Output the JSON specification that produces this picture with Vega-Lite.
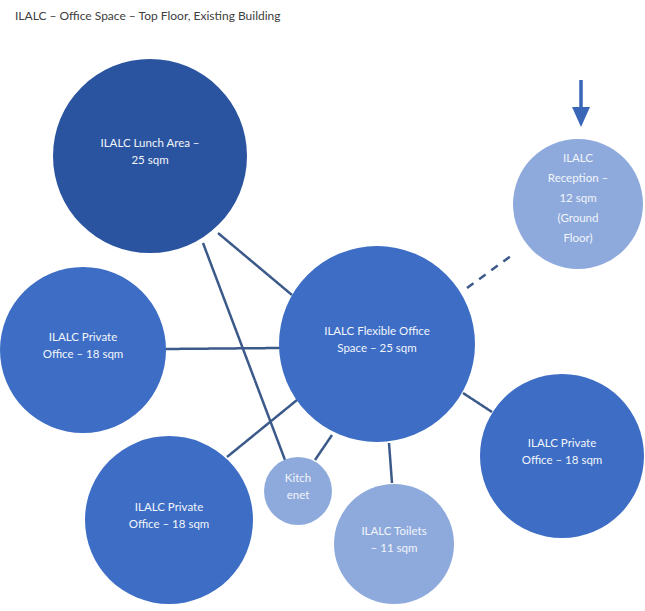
{
  "$schema": "https://vega.github.io/schema/vega-lite/v6.json",
  "width": 645,
  "height": 611,
  "autosize": {"type": "fit", "contains": "padding"},
  "padding": 0,
  "background": "white",
  "title": {
    "text": "ILALC – Office Space – Top Floor, Existing Building",
    "anchor": "start",
    "frame": "group",
    "orient": "top",
    "offset": -23,
    "dx": 15,
    "font": "Lato",
    "fontSize": 12,
    "fontWeight": "normal",
    "color": "#404040"
  },
  "config": {"view": {"stroke": null}},
  "datasets": {
    "rooms": [
      {"room": "ILALC Lunch Area –\n25 sqm", "x": 150, "y": 156, "r": 97, "kind": "lunch", "lines": 2},
      {"room": "ILALC\nReception –\n12 sqm\n(Ground\nFloor)", "x": 578, "y": 204, "r": 65, "kind": "support", "lines": 5},
      {"room": "ILALC Flexible Office\nSpace – 25 sqm", "x": 377, "y": 344, "r": 98, "kind": "office", "lines": 2},
      {"room": "ILALC Private\nOffice – 18 sqm", "x": 83, "y": 350, "r": 83, "kind": "office", "lines": 2},
      {"room": "ILALC Private\nOffice – 18 sqm", "x": 562, "y": 456, "r": 82, "kind": "office", "lines": 2},
      {"room": "ILALC Private\nOffice – 18 sqm", "x": 169, "y": 520, "r": 84, "kind": "office", "lines": 2},
      {"room": "Kitch\nenet", "x": 298, "y": 491, "r": 34, "kind": "support", "lines": 2},
      {"room": "ILALC Toilets\n– 11 sqm", "x": 394, "y": 544, "r": 60, "kind": "support", "lines": 2}
    ],
    "links": [
      {"x": 218, "y": 233, "x2": 292, "y2": 295, "style": "solid"},
      {"x": 203, "y": 243, "x2": 285, "y2": 460, "style": "solid"},
      {"x": 165, "y": 349, "x2": 280, "y2": 348, "style": "solid"},
      {"x": 227, "y": 457, "x2": 297, "y2": 400, "style": "solid"},
      {"x": 315, "y": 460, "x2": 332, "y2": 435, "style": "solid"},
      {"x": 389, "y": 443, "x2": 392, "y2": 483, "style": "solid"},
      {"x": 463, "y": 393, "x2": 492, "y2": 412, "style": "solid"},
      {"x": 467, "y": 288, "x2": 515, "y2": 253, "style": "dashed"}
    ],
    "arrow": [
      {"x": 581, "y": 80, "y2": 110, "head": 117}
    ]
  },
  "layer": [
    {
      "data": {"name": "links"},
      "mark": {"type": "rule", "color": "#3B5A8A", "strokeWidth": 2.5},
      "encoding": {
        "x": {"field": "x", "type": "quantitative", "scale": {"domain": [0, 645], "nice": false, "zero": false}, "axis": null},
        "y": {"field": "y", "type": "quantitative", "scale": {"domain": [0, 611], "nice": false, "zero": false, "reverse": true}, "axis": null},
        "x2": {"field": "x2"},
        "y2": {"field": "y2"},
        "strokeDash": {"field": "style", "type": "nominal", "scale": {"domain": ["solid", "dashed"], "range": [[1, 0], [8, 7]]}, "legend": null}
      }
    },
    {
      "data": {"name": "arrow"},
      "mark": {"type": "rule", "color": "#3A66B8", "strokeWidth": 3.5},
      "encoding": {
        "x": {"field": "x", "type": "quantitative"},
        "y": {"field": "y", "type": "quantitative"},
        "y2": {"field": "y2"}
      }
    },
    {
      "data": {"name": "arrow"},
      "mark": {"type": "point", "filled": true, "opacity": 1, "color": "#3A66B8", "shape": "M-0.9,-1L0.9,-1L0,1Z", "size": 400},
      "encoding": {
        "x": {"field": "x", "type": "quantitative"},
        "y": {"field": "head", "type": "quantitative"}
      }
    },
    {
      "data": {"name": "rooms"},
      "mark": {"type": "point", "shape": "circle", "filled": true, "opacity": 1, "strokeWidth": 0},
      "encoding": {
        "x": {"field": "x", "type": "quantitative"},
        "y": {"field": "y", "type": "quantitative"},
        "size": {"field": "r", "type": "quantitative", "scale": {"type": "pow", "exponent": 2, "domain": [0, 100], "range": [0, 40000]}, "legend": null},
        "color": {"field": "kind", "type": "nominal", "scale": {"domain": ["lunch", "office", "support"], "range": ["#2B54A0", "#3D6DC5", "#8EAADC"]}, "legend": null}
      }
    },
    {
      "data": {"name": "rooms"},
      "transform": [{"filter": "datum.lines == 2"}],
      "mark": {"type": "text", "font": "Lato", "fontSize": 11.5, "color": "#F2F5FB", "lineBreak": "\n", "lineHeight": 17, "align": "center", "baseline": "middle", "dy": -12},
      "encoding": {
        "x": {"field": "x", "type": "quantitative"},
        "y": {"field": "y", "type": "quantitative"},
        "text": {"field": "room"}
      }
    },
    {
      "data": {"name": "rooms"},
      "transform": [{"filter": "datum.lines == 5"}],
      "mark": {"type": "text", "font": "Lato", "fontSize": 11.5, "color": "#F2F5FB", "lineBreak": "\n", "lineHeight": 20, "align": "center", "baseline": "middle", "dy": -45},
      "encoding": {
        "x": {"field": "x", "type": "quantitative"},
        "y": {"field": "y", "type": "quantitative"},
        "text": {"field": "room"}
      }
    }
  ]
}
